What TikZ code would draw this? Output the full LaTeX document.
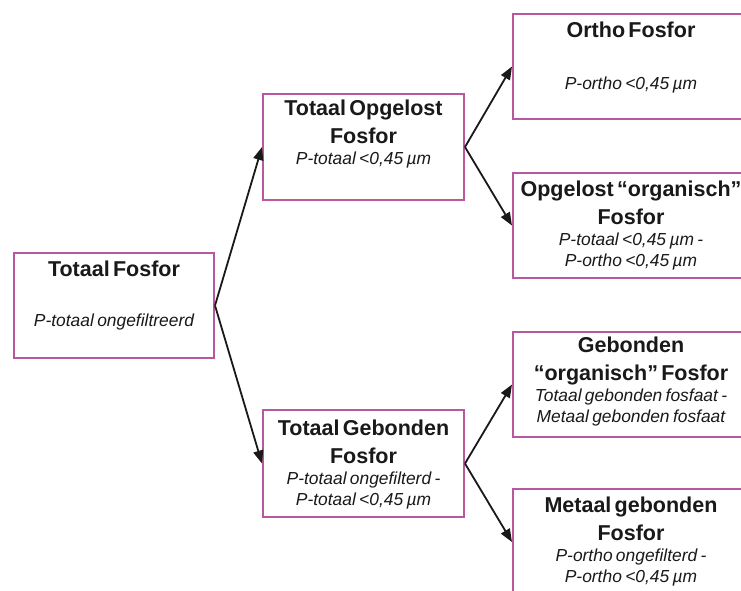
\documentclass[tikz,border=0pt]{standalone}
\usepackage{fontspec}
\setmainfont{Liberation Sans}
\usetikzlibrary{arrows.meta}
\definecolor{boxc}{RGB}{185,88,158}
\newcommand\boxtitle{\bfseries\fontsize{21.5}{28}\selectfont}
\newcommand\boxsubt{\itshape\fontsize{17.4}{21}\selectfont}
\tikzset{
  box/.style={draw=boxc, line width=2pt, minimum width=#1, minimum height=105pt, inner sep=0pt, fill=white},
  lbl/.style={anchor=base, text width=#1, align=center, inner sep=0pt, text=black!90},
  arr/.style={-{Triangle[length=13pt,width=10pt]}, line width=1.8pt, draw=black!90}
}
\begin{document}
\begin{tikzpicture}[x=1pt,y=-1pt]
\useasboundingbox (0,0) rectangle (741,590);
\clip (0,0) rectangle (741,590);
\fill[white] (0,0) rectangle (741,590);
% boxes
\node[box=200pt] (A) at (114,305.5) {};
\node[box=201pt, minimum height=106pt] (B) at (363.5,147) {};
\node[box=201pt, minimum height=107pt] (C) at (363.5,463.5) {};
\node[box=236pt] (D) at (631,66.5) {};
\node[box=236pt] (E) at (631,225.5) {};
\node[box=236pt] (F) at (631,384.5) {};
\node[box=236pt, minimum height=106pt] (G) at (631,542) {};
% texts
\node[lbl=200pt] (tA) at ([yshift=-24pt]A.north) {{\boxtitle Totaal Fosfor\par}\vspace{29pt}{\boxsubt P-totaal ongefiltreerd\par}};
\node[lbl=200pt] (tB) at ([yshift=-22pt]B.north) {{\boxtitle Totaal Opgelost\\Fosfor\par}{\boxsubt P-totaal <0,45 µm\par}};
\node[lbl=200pt] (tC) at ([yshift=-26pt]C.north) {{\boxtitle Totaal Gebonden\\Fosfor\par}{\boxsubt P-totaal ongefilterd -\\P-totaal <0,45 µm\par}};
\node[lbl=232pt] (tD) at ([yshift=-24pt]D.north) {{\boxtitle Ortho Fosfor\par}\vspace{31pt}{\boxsubt P-ortho <0,45 µm\par}};
\node[lbl=232pt] (tE) at ([yshift=-24pt]E.north) {{\boxtitle Opgelost “organisch”\\Fosfor\par}{\boxsubt P-totaal <0,45 µm -\\P-ortho <0,45 µm\par}};
\node[lbl=232pt] (tF) at ([yshift=-21pt]F.north) {{\boxtitle Gebonden\\“organisch” Fosfor\par}{\boxsubt Totaal gebonden fosfaat -\\Metaal gebonden fosfaat\par}};
\node[lbl=232pt] (tG) at ([yshift=-24pt]G.north) {{\boxtitle Metaal gebonden\\Fosfor\par}{\boxsubt P-ortho ongefilterd -\\P-ortho <0,45 µm\par}};
% connectors
\draw[arr] (A.east) -- (B.west);
\draw[arr] (A.east) -- (C.west);
\draw[arr] (B.east) -- (D.west);
\draw[arr] (B.east) -- (E.west);
\draw[arr] (C.east) -- (F.west);
\draw[arr] (C.east) -- (G.west);
\end{tikzpicture}
\end{document}
